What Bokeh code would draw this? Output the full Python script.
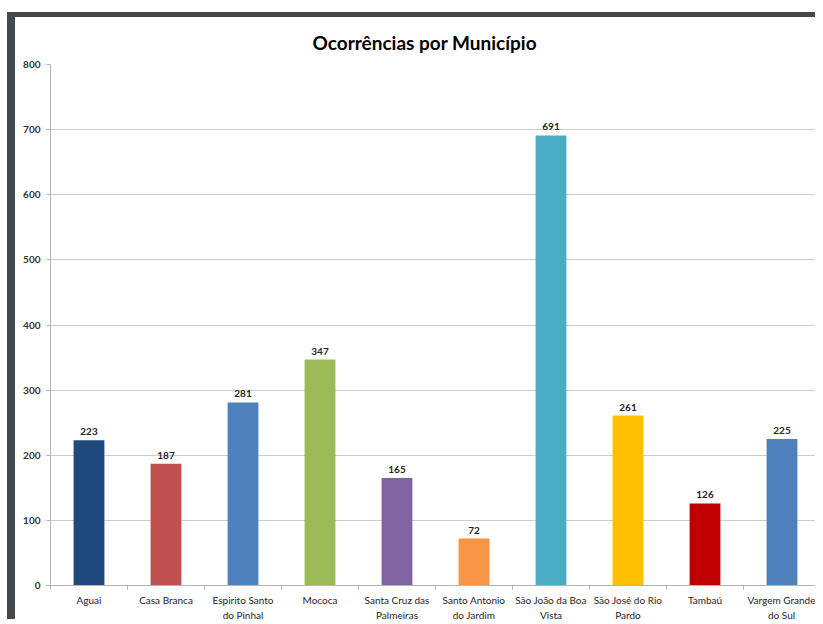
from bokeh.plotting import figure
from bokeh.models import FixedTicker, Range1d, ColumnDataSource, LabelSet
from bokeh.core.properties import value
from bokeh.embed import file_html
from bokeh.resources import INLINE

municipios = ["Aguai", "Casa Branca", "Espirito Santo\ndo Pinhal", "Mococa",
              "Santa Cruz das\nPalmeiras", "Santo Antonio\ndo Jardim",
              "São João da Boa\nVista", "São José do Rio\nPardo", "Tambaú",
              "Vargem Grande\ndo Sul"]
ocorrencias = [223, 187, 281, 347, 165, 72, 691, 261, 126, 225]
cores = ["#1f497d", "#c0504d", "#4f81bd", "#9bbb59", "#8064a2",
         "#f79646", "#4bacc6", "#ffc000", "#c00000", "#4f81bd"]
y_ticks = [0, 100, 200, 300, 400, 500, 600, 700, 800]

n = len(municipios)
pos = [i + 0.5 for i in range(n)]
FONT = "Lato"

src = ColumnDataSource(dict(x=pos, y=ocorrencias, cor=cores,
                            txt=[str(v) for v in ocorrencias]))

p = figure(width=800, height=602, x_range=Range1d(0, n), y_range=Range1d(0, 800),
           output_backend="svg", toolbar_location=None,
           min_border_left=35, min_border_right=3, min_border_top=47, min_border_bottom=38,
           styles={"border-left": "8px solid #46494c", "border-top": "5px solid #46494c",
                   "margin-top": "12px", "margin-left": "7px",
                   "box-sizing": "content-box"})

p.title.text = "Ocorrências por Município"
p.title.align = "left"
p.title.offset = 262
p.title.text_font = FONT
p.title.text_font_size = "19px"
p.title.text_font_style = "bold"
p.title.text_color = "#000000"
p.title.standoff = 22

p.vbar(x="x", top="y", width=0.4, fill_color="cor", line_color=None, source=src)

labels = LabelSet(x="x", y="y", text="txt", source=src, y_offset=5,
                  text_align="center", text_baseline="bottom",
                  text_font=value(FONT), text_font_size=value("10px"),
                  text_font_style=value("bold"), text_color=value("#262626"))
p.add_layout(labels)

p.outline_line_color = None
p.xgrid.grid_line_color = None
p.ygrid.grid_line_color = "#cdcdcd"
p.ygrid.ticker = FixedTicker(ticks=y_ticks)

p.yaxis.ticker = FixedTicker(ticks=y_ticks)
p.yaxis.axis_line_color = "#b4b4b4"
p.yaxis.major_tick_line_color = "#b4b4b4"
p.yaxis.major_tick_out = 4
p.yaxis.major_tick_in = 0
p.yaxis.minor_tick_line_color = None
p.yaxis.major_label_text_font = FONT
p.yaxis.major_label_text_font_size = "10px"
p.yaxis.major_label_text_font_style = "bold"
p.yaxis.major_label_text_color = "#333333"
p.yaxis.major_label_standoff = 6

p.xaxis.ticker = FixedTicker(ticks=pos, minor_ticks=list(range(n + 1)))
p.xaxis.major_label_overrides = {x: m for x, m in zip(pos, municipios)}
p.xaxis.axis_line_color = "#b4b4b4"
p.xaxis.major_tick_line_color = None
p.xaxis.minor_tick_line_color = "#b4b4b4"
p.xaxis.minor_tick_out = 4
p.xaxis.minor_tick_in = 0
p.xaxis.major_label_text_font = FONT
p.xaxis.major_label_text_font_size = "10px"
p.xaxis.major_label_text_color = "#262626"
p.xaxis.major_label_text_line_height = 1.3
p.xaxis.major_label_standoff = 2

open("out.html", "w").write(file_html(p, INLINE))
